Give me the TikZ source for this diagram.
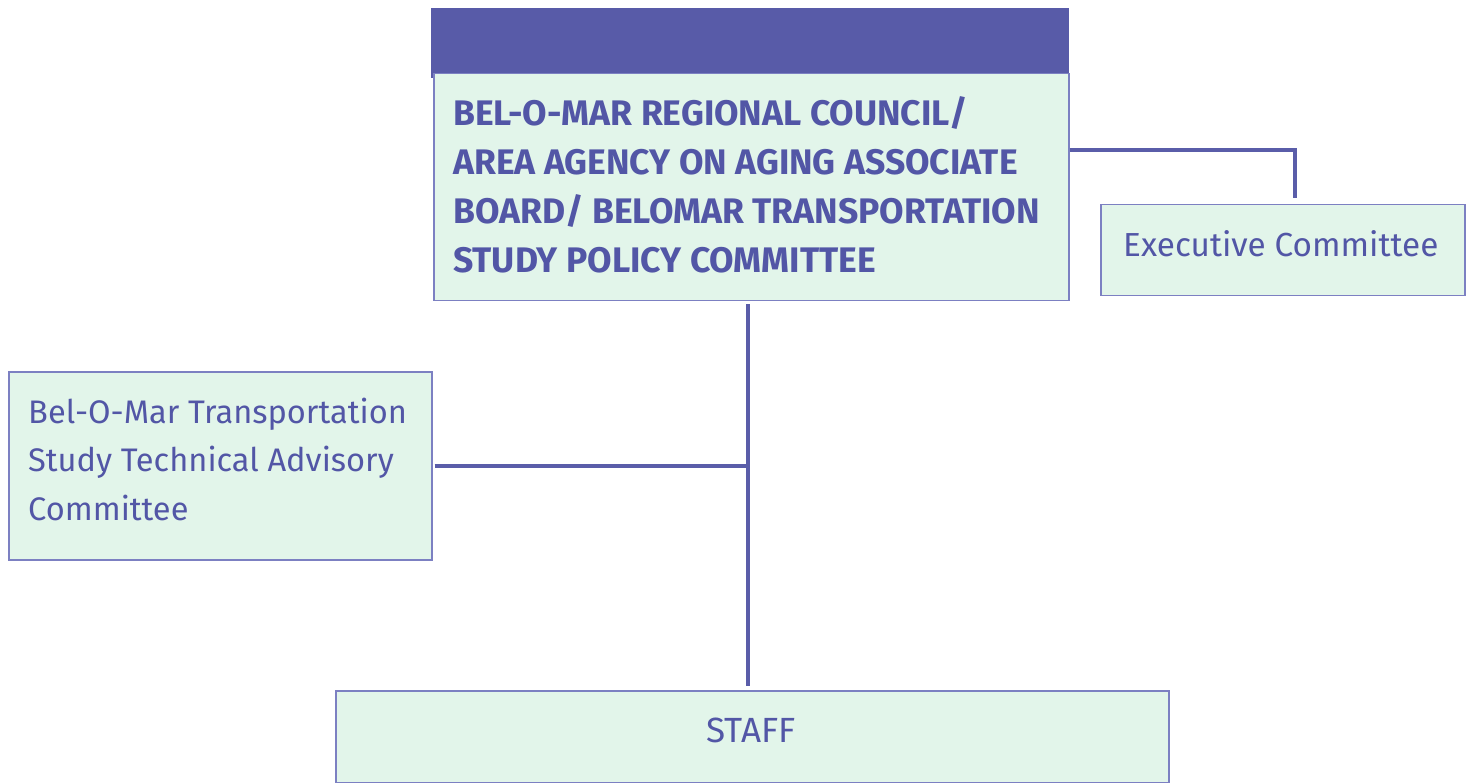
\documentclass[tikz,border=0pt]{standalone}
\usepackage{fontspec}
\setmainfont{Fira Sans}
\definecolor{hdr}{HTML}{585BA8}
\definecolor{boxfill}{HTML}{E2F5EA}
\definecolor{boxline}{HTML}{7C80C2}
\definecolor{txt}{HTML}{5256A6}
\definecolor{conn}{HTML}{5A5DA9}
\begin{document}
\begin{tikzpicture}[x=1pt,y=-1pt,
  box/.style={draw=boxline, line width=1.5pt, fill=boxfill, inner sep=0pt, anchor=north west},
  conline/.style={draw=conn, line width=3.5pt},
  lbl/.style={text=txt, inner sep=0pt, align=left, anchor=base west}]
\useasboundingbox (0,0) rectangle (1471,783);
% header band
\fill[hdr] (431,8) rectangle (1069,78);
% boxes
\node[box, minimum width=635pt, minimum height=227pt] (main) at (433,73) {};
\node[box, minimum width=364pt, minimum height=91pt] (exec) at (1100,204) {};
\node[box, minimum width=423pt, minimum height=188pt] (tech) at (8,371) {};
\node[box, minimum width=833pt, minimum height=92pt] (staff) at (335,690) {};
% texts (base anchor = last line's baseline)
\node[lbl, font=\bfseries\fontsize{35.5}{49}\selectfont] (maintxt) at (453,273)
  {BEL-O-MAR REGIONAL COUNCIL/\\AREA AGENCY ON AGING ASSOCIATE\\BOARD/ BELOMAR TRANSPORTATION\\STUDY POLICY COMMITTEE};
\node[lbl, font=\fontsize{33.3}{49}\selectfont] (exectxt) at (1123,257) {Executive Committee};
\node[lbl, font=\fontsize{32.6}{48.5}\selectfont] (techtxt) at (28,520)
  {Bel-O-Mar Transportation\\Study Technical Advisory\\Committee};
\node[text=txt, inner sep=0pt, anchor=base, font=\fontsize{35}{40}\selectfont] (stafftxt) at (751,742) {STAFF};
% connectors
\coordinate (execjoin) at (1295,150);
\coordinate (staffjoin) at (748,466);
\draw[conline] (main.east |- execjoin) -- (execjoin) -- ([yshift=6pt]exec.north -| execjoin);
\draw[conline] ([yshift=-3pt]main.south -| staffjoin) -- ([yshift=4pt]staff.north -| staffjoin);
\draw[conline] ([xshift=2pt]tech.east |- staffjoin) -- (staffjoin);
\end{tikzpicture}
\end{document}
